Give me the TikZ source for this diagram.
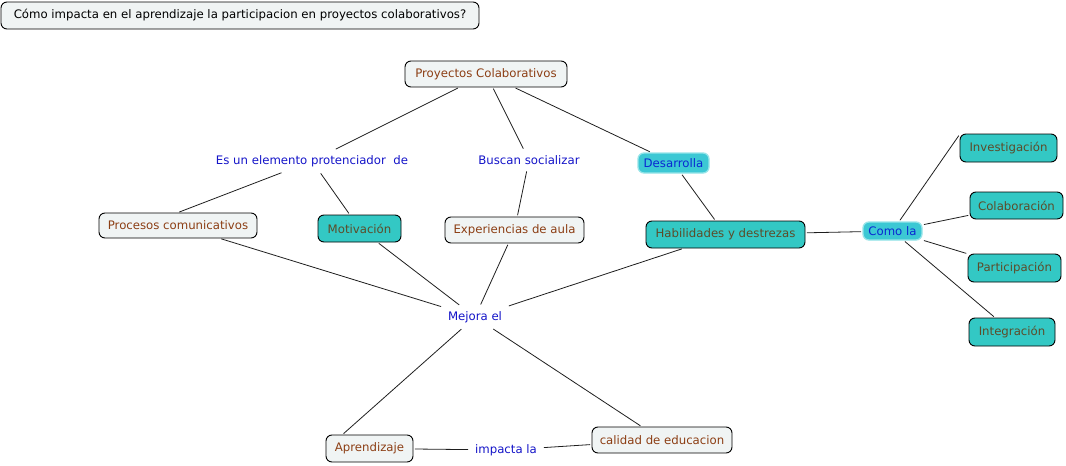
\documentclass[tikz,border=0pt]{standalone}
\usepackage{fontspec}
\setmainfont{DejaVu Sans}
\definecolor{lightbox}{RGB}{240,244,244}
\definecolor{tealbox}{RGB}{51,200,196}
\definecolor{cyanlink}{RGB}{60,200,212}
\definecolor{cyanedge}{RGB}{150,228,232}
\definecolor{browntext}{RGB}{140,62,20}
\definecolor{olivetext}{RGB}{92,76,42}
\definecolor{linktext}{RGB}{20,20,200}
\begin{document}
\begin{tikzpicture}[x=0.75pt,y=-0.75pt,
  every node/.style={font=\fontsize{8.8}{10}\selectfont},
  base/.style={draw=black,line width=0.7pt,rounded corners=4.5pt,inner sep=0pt,align=center},
  lightnode/.style={base,fill=lightbox,text=browntext},
  tealnode/.style={base,fill=tealbox,text=olivetext},
  linknode/.style={draw=cyanedge,line width=1pt,fill=cyanlink,rounded corners=4.5pt,inner sep=0pt,text={rgb,255:red,10;green,40;blue,210}},
  phrase/.style={inner sep=4pt,text=linktext},
  conn/.style={draw={rgb,255:red,30;green,30;blue,30},line width=0.6pt,shorten <=1pt,shorten >=1pt}]
\useasboundingbox (0,0) rectangle (1066,465);
% nodes
\node[base,fill=lightbox,text=black,minimum width=358.5pt,minimum height=20.25pt] (title) at (240,15.5) {Cómo impacta en el aprendizaje la participacion en proyectos colaborativos?};
\node[lightnode,minimum width=121.5pt,minimum height=19.5pt] (proy) at (486,74) {Proyectos Colaborativos};
\node[phrase] (esun) at (312,161) {Es un elemento protenciador\ \ de};
\node[phrase] (busc) at (529,160) {Buscan socializar};
\node[linknode,minimum width=53.25pt,minimum height=15pt] (desa) at (673.5,163) {Desarrolla};
\node[lightnode,minimum width=118.5pt,minimum height=18.75pt] (proc) at (178,225.5) {Procesos comunicativos};
\node[tealnode,minimum width=62.25pt,minimum height=20.25pt] (moti) at (359.5,228.5) {Motivación};
\node[lightnode,minimum width=104.25pt,minimum height=19.5pt] (expe) at (514.5,230) {Experiencias de aula};
\node[tealnode,minimum width=119.25pt,minimum height=20.25pt] (habi) at (725.5,234.5) {Habilidades y destrezas};
\node[linknode,minimum width=44.25pt,minimum height=13.5pt] (como) at (892.5,231) {Como la};
\node[tealnode,minimum width=72.75pt,minimum height=21pt] (inve) at (1008.5,148) {Investigación};
\node[tealnode,minimum width=69.75pt,minimum height=20.25pt] (cola) at (1016.5,205.5) {Colaboración};
\node[tealnode,minimum width=69.75pt,minimum height=21pt] (part) at (1014.5,268) {Participación};
\node[tealnode,minimum width=64.5pt,minimum height=21pt] (inte) at (1012,332) {Integración};
\node[phrase] (mejo) at (475,317) {Mejora el};
\node[lightnode,minimum width=65.25pt,minimum height=20.25pt] (apre) at (369.5,448.5) {Aprendizaje};
\node[phrase] (impa) at (506,450) {impacta la};
\node[lightnode,minimum width=105pt,minimum height=19.5pt] (cali) at (662,440) {calidad de educacion};
% connectors
\draw[conn] (proy) -- (esun);
\draw[conn] (proy) -- (busc);
\draw[conn] (proy) -- (desa);
\draw[conn] (esun) -- (proc.north);
\draw[conn] (esun) -- (moti);
\draw[conn] (busc) -- (expe);
\draw[conn] (desa) -- (habi);
\draw[conn] (habi) -- (como);
\draw[conn] (como) -- ([yshift=-0.75pt]inve.north west);
\draw[conn] (como) -- (cola);
\draw[conn] (como) -- (part);
\draw[conn] (como) -- (inte);
\draw[conn] (proc) -- (mejo);
\draw[conn] (moti) -- (mejo);
\draw[conn] (expe) -- (mejo);
\draw[conn] (habi) -- (mejo);
\draw[conn] (mejo) -- ([xshift=12.75pt]apre.north west);
\draw[conn] (mejo) -- (cali);
\draw[conn] (apre) -- (impa);
\draw[conn] (impa) -- (cali);
\end{tikzpicture}
\end{document}
